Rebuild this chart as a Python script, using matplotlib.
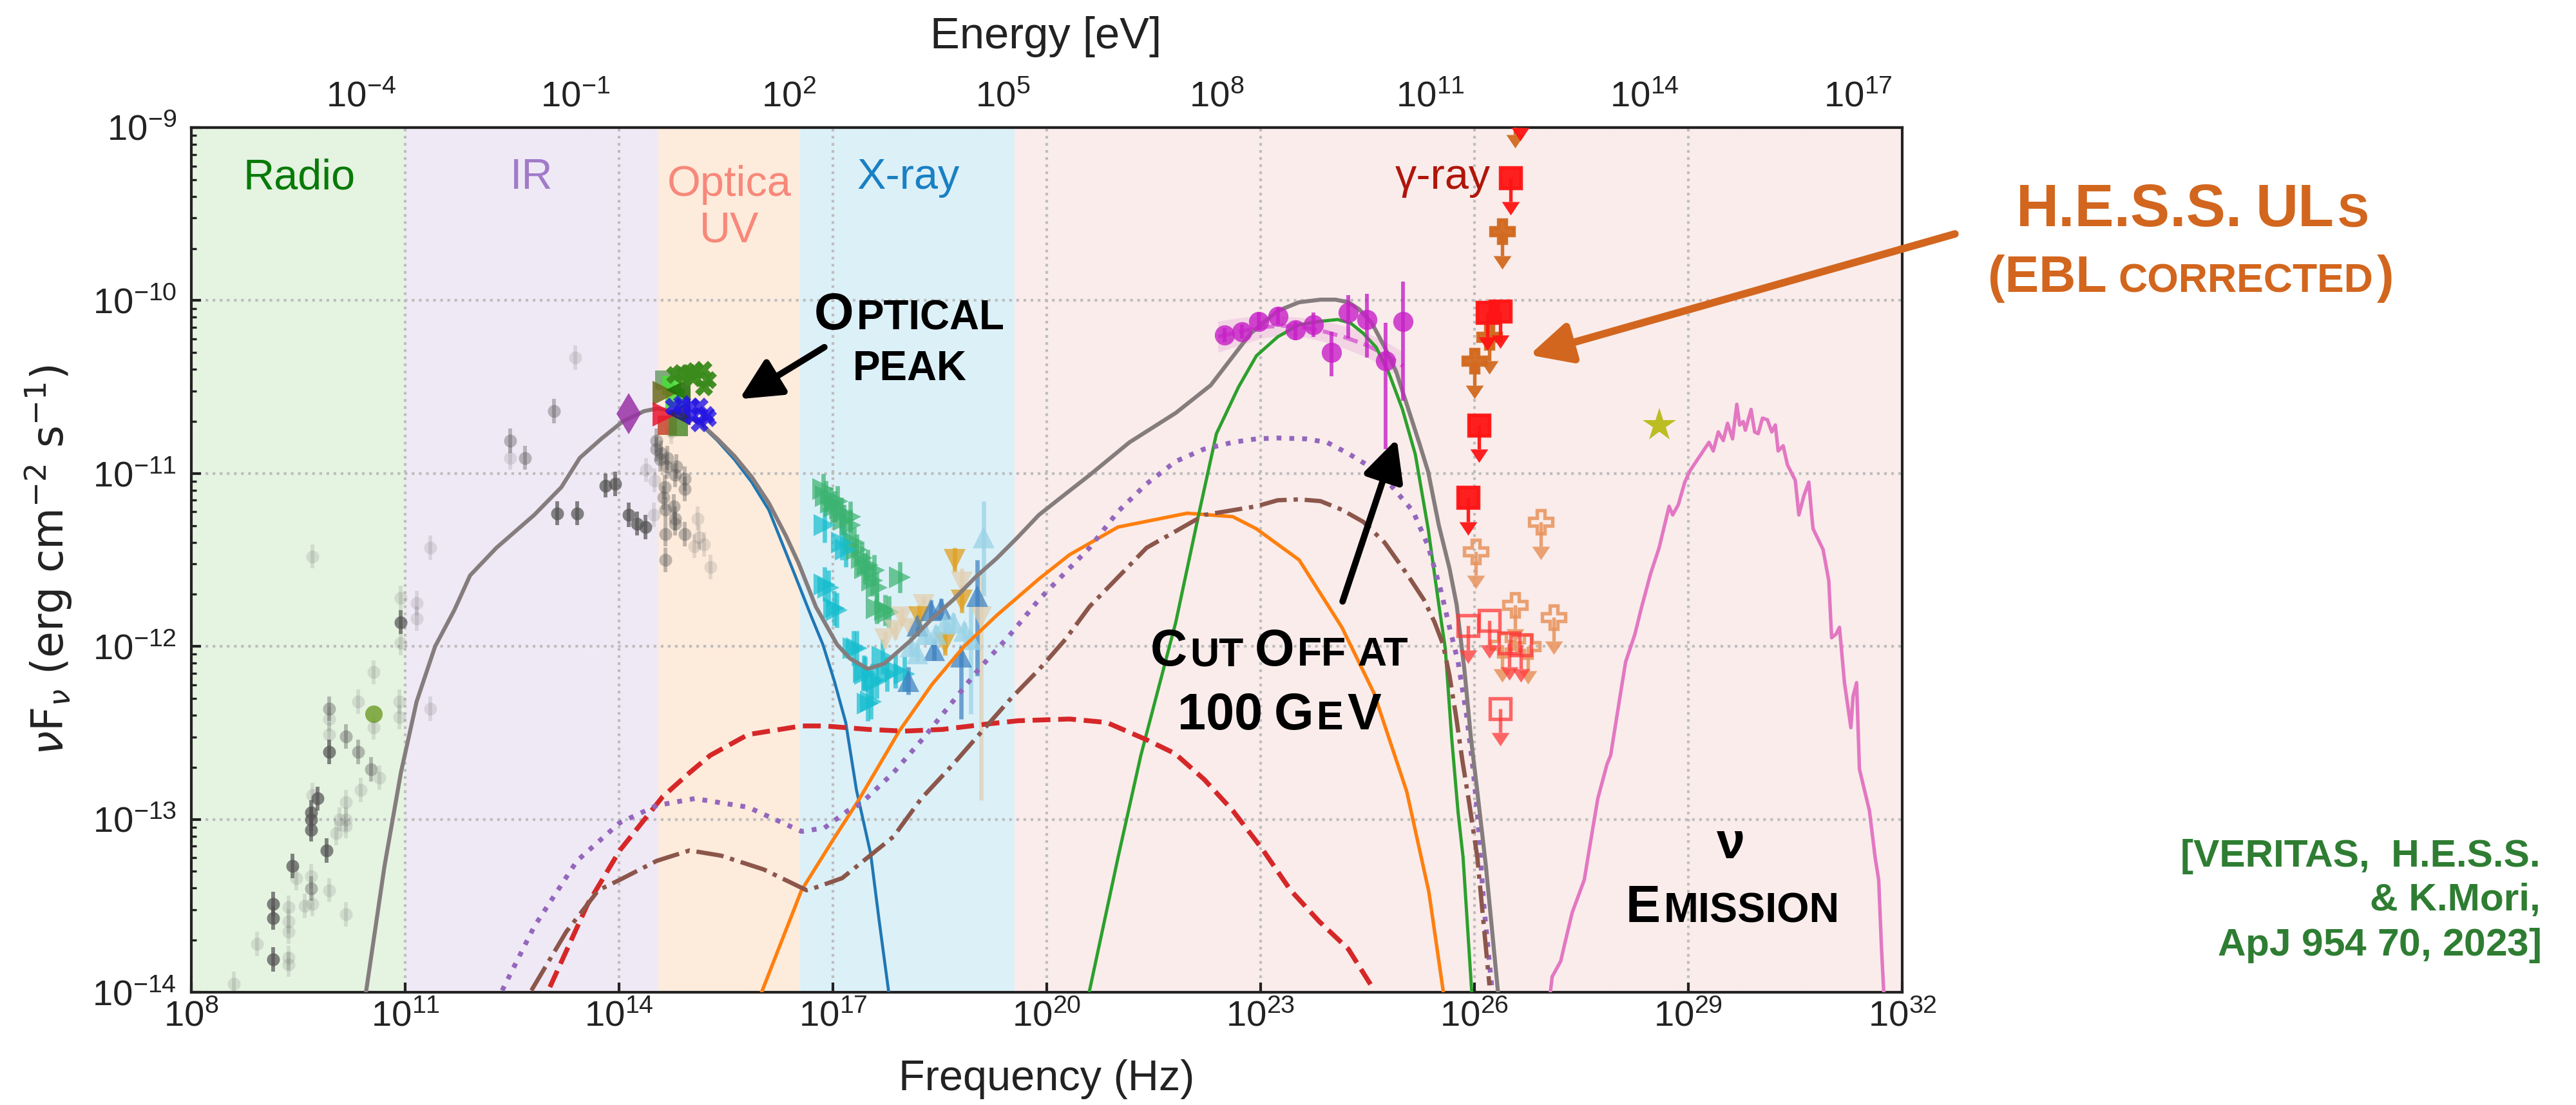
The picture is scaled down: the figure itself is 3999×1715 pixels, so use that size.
import numpy as np
import matplotlib
matplotlib.use("Agg")
import matplotlib.pyplot as plt
from matplotlib.path import Path
from matplotlib.ticker import FixedLocator, NullLocator

plt.rcParams["font.family"] = ["Liberation Sans", "DejaVu Sans"]
plt.rcParams["mathtext.fontset"] = "custom"
plt.rcParams["mathtext.rm"] = "Liberation Sans"
plt.rcParams["mathtext.it"] = "Liberation Sans:italic"
plt.rcParams["mathtext.bf"] = "Liberation Sans:bold"
plt.rcParams["axes.axisbelow"] = True

H_EV = 4.135667e-15  # Planck constant [eV s]

# everything below is log10(nu / Hz) and log10(nuFnu / erg cm^-2 s^-1)

# ---- spectral bands
BAND_EDGES = [8.0, 11.0, 14.55, 16.54, 19.55, 32.0]
BAND_NAMES = ["Radio", "IR", "Optica\nUV", "X-ray", "γ-ray"]
BAND_LABEL_NU = [9.51, 12.77, 15.55, 18.06, 25.56]
BAND_LABEL_F = [-9.354, -9.354, -9.66, -9.354, -9.354]   # baseline of the last line

# ---- model components
TOTAL_NU = [10.45, 10.71, 10.94, 11.16, 11.42, 11.69, 11.91, 12.28, 12.81, 13.19, 13.45,
            13.75, 14.05, 14.35, 14.53, 14.71, 14.96, 15.14, 15.38, 15.62, 15.86, 16.10,
            16.34, 16.52, 16.76, 17.06, 17.24, 17.49, 17.72, 18.08, 18.39, 18.69, 19.00,
            19.30, 19.59, 19.89, 20.32, 20.60, 21.16, 21.81, 22.30, 22.86, 23.24, 23.54,
            23.84, 24.05, 24.23, 24.38, 24.56, 24.74, 24.90, 25.05, 25.23, 25.35, 25.50,
            25.65, 25.75, 25.86, 25.95, 26.04, 26.16, 26.33]
TOTAL_F = [-14.00, -13.27, -12.73, -12.32, -12.00, -11.79, -11.59, -11.43, -11.24, -11.08,
           -10.91, -10.80, -10.70, -10.64, -10.625, -10.635, -10.67, -10.71, -10.80, -10.90,
           -11.02, -11.17, -11.36, -11.52, -11.77, -11.99, -12.07, -12.13, -12.10, -11.97,
           -11.84, -11.73, -11.60, -11.49, -11.37, -11.24, -11.10, -11.01, -10.82, -10.65,
           -10.49, -10.19, -10.06, -10.01, -9.995, -9.995, -10.01, -10.05, -10.13, -10.27,
           -10.41, -10.60, -10.83, -10.99, -11.30, -11.55, -11.76, -12.14, -12.53, -12.84,
           -13.27, -14.00]

SYNC_NU = [10.45, 10.71, 10.94, 11.16, 11.42, 11.69, 11.91, 12.28, 12.81, 13.19, 13.45,
           13.75, 14.05, 14.35, 14.53, 14.71, 14.96, 15.14, 15.38, 15.62, 15.86, 16.10,
           16.46, 16.70, 16.86, 17.02, 17.18, 17.33, 17.53, 17.65, 17.78]
SYNC_F = [-14.00, -13.27, -12.73, -12.32, -12.00, -11.79, -11.59, -11.43, -11.24, -11.08,
          -10.91, -10.80, -10.70, -10.64, -10.625, -10.635, -10.67, -10.715, -10.81, -10.92,
          -11.05, -11.21, -11.58, -11.83, -11.99, -12.20, -12.44, -12.83, -13.20, -13.59,
          -13.99]

IC_NU = [16.00, 16.56, 17.00, 17.36, 17.93, 18.39, 18.84, 19.30, 19.89, 20.32, 21.00,
         21.97, 22.61, 22.94, 23.54, 24.14, 24.59, 25.05, 25.36, 25.56]
IC_F = [-14.00, -13.41, -13.12, -12.89, -12.49, -12.22, -12.00, -11.82, -11.61, -11.47,
        -11.31, -11.23, -11.25, -11.32, -11.50, -11.89, -12.27, -12.84, -13.42, -13.99]

PION_NU = [20.60, 21.00, 21.32, 21.81, 22.13, 22.38, 22.69, 22.94, 23.24, 23.54, 23.84,
           24.08, 24.26, 24.44, 24.62, 24.80, 24.99, 25.17, 25.35, 25.50, 25.59, 25.68,
           25.77, 25.84, 25.96]
PION_F = [-13.99, -13.22, -12.63, -11.86, -11.24, -10.77, -10.50, -10.32, -10.21, -10.14,
          -10.12, -10.11, -10.13, -10.19, -10.27, -10.42, -10.63, -10.89, -11.32, -11.76,
          -12.01, -12.53, -12.96, -13.22, -13.99]

RED_NU = [13.03, 13.56, 14.01, 14.61, 14.99, 15.28, 15.81, 16.56, 16.88, 17.49, 18.00,
          18.54, 19.14, 19.60, 20.32, 20.84, 21.40, 21.80, 22.21, 22.61, 23.02, 23.42,
          23.82, 24.23, 24.55]
RED_F = [-13.97, -13.49, -13.18, -12.87, -12.73, -12.63, -12.51, -12.46, -12.46, -12.48,
         -12.49, -12.48, -12.45, -12.43, -12.42, -12.44, -12.54, -12.62, -12.77, -12.95,
         -13.17, -13.41, -13.59, -13.75, -13.96]

PURPLE_NU = [12.36, 12.81, 13.41, 14.01, 14.53, 15.06, 15.81, 16.56, 16.88, 17.21, 17.39,
             17.85, 18.27, 18.66, 19.05, 19.47, 19.89, 20.29, 20.60, 21.00, 21.40, 21.81,
             22.20, 22.61, 22.94, 23.24, 23.63, 23.93, 24.23, 24.53, 24.83, 25.14, 25.35,
             25.53, 25.65, 25.77, 25.89, 25.98, 26.04, 26.13, 26.24]
PURPLE_F = [-13.99, -13.62, -13.24, -13.02, -12.92, -12.88, -12.93, -13.07, -13.05, -12.95,
            -12.91, -12.73, -12.53, -12.33, -12.13, -11.94, -11.73, -11.56, -11.43, -11.22,
            -11.06, -10.93, -10.86, -10.82, -10.80, -10.795, -10.80, -10.82, -10.885, -10.96,
            -11.07, -11.22, -11.42, -11.68, -11.89, -12.09, -12.40, -12.71, -12.96, -13.49,
            -13.96]

BROWN_NU = [12.77, 13.26, 13.71, 14.01, 14.53, 14.99, 15.43, 16.03, 16.63, 16.72, 17.13,
            17.85, 18.24, 18.69, 19.05, 19.50, 19.90, 20.26, 20.60, 21.40, 22.21, 22.94,
            23.24, 23.54, 23.84, 24.14, 24.44, 24.74, 25.05, 25.29, 25.44, 25.56, 25.65,
            25.74, 25.83, 25.92, 26.04, 26.21]
BROWN_F = [-13.99, -13.65, -13.41, -13.35, -13.24, -13.18, -13.21, -13.29, -13.41, -13.40,
           -13.34, -13.10, -12.88, -12.68, -12.51, -12.30, -12.13, -11.96, -11.77, -11.43,
           -11.24, -11.19, -11.155, -11.15, -11.16, -11.21, -11.28, -11.40, -11.58, -11.73,
           -11.86, -11.99, -12.17, -12.40, -12.66, -12.89, -13.22, -13.96]

NEUTRINO_NU = [27.05, 27.09, 27.21, 27.26, 27.37, 27.54, 27.62, 27.73, 27.86, 27.91, 28.03,
               28.12, 28.25, 28.34, 28.47, 28.59, 28.73, 28.78, 28.86, 28.95, 29.03, 29.16,
               29.29, 29.35, 29.42, 29.49, 29.55, 29.62, 29.68, 29.72, 29.77, 29.80, 29.88,
               29.93, 29.98, 30.04, 30.11, 30.17, 30.22, 30.26, 30.33, 30.39, 30.50, 30.55,
               30.62, 30.69, 30.73, 30.75, 30.89, 30.97, 31.01, 31.07, 31.12, 31.19, 31.28,
               31.31, 31.36, 31.40, 31.54, 31.62, 31.67, 31.71, 31.75]
NEUTRINO_F = [-14.05, -13.91, -13.82, -13.73, -13.54, -13.35, -13.15, -12.88, -12.68, -12.63,
              -12.32, -12.09, -11.93, -11.78, -11.58, -11.43, -11.19, -11.24, -11.18, -11.05,
              -10.98, -10.90, -10.82, -10.87, -10.76, -10.81, -10.71, -10.80, -10.60, -10.72,
              -10.70, -10.75, -10.63, -10.76, -10.77, -10.68, -10.69, -10.76, -10.72, -10.87,
              -10.84, -10.95, -11.04, -11.24, -11.13, -11.05, -11.24, -11.32, -11.44, -11.62,
              -11.95, -11.93, -11.89, -12.21, -12.47, -12.29, -12.21, -12.71, -12.95, -13.22,
              -13.35, -13.75, -14.07]

# ---- archival radio / IR / optical fluxes (three visibility groups)
ARCH_STRONG_NU = [9.15, 9.15, 9.15, 9.42, 9.68, 9.68, 9.68, 9.77, 9.90, 9.93, 10.94, 13.13,
                  13.41, 13.81, 13.95, 14.14, 14.25, 14.37]
ARCH_STRONG_F = [-13.49, -13.57, -13.81, -13.27, -12.96, -13.00, -13.06, -12.88, -13.18,
                 -12.61, -11.86, -11.23, -11.23, -11.07, -11.06, -11.24, -11.29, -11.31]
ARCH_MED_NU = [12.47, 12.68, 13.09, 14.52, 14.52, 14.59, 14.68, 14.58, 14.67, 14.80, 14.79,
               14.92, 14.92, 14.64, 14.62, 14.65, 14.77, 14.79, 14.79, 14.65, 14.92, 14.65,
               10.34, 10.52, 10.17, 9.93, 9.68]
ARCH_MED_F = [-10.81, -10.91, -10.64, -10.86, -10.81, -10.88, -10.91, -10.92, -10.96, -10.96,
              -11.01, -11.03, -11.09, -11.08, -11.14, -11.21, -11.19, -11.26, -11.29, -11.35,
              -11.35, -11.50, -12.61, -12.71, -12.52, -12.36, -13.40]
ARCH_FAINT_NU = [8.60, 8.92, 9.36, 9.36, 9.36, 9.36, 9.36, 9.47, 9.59, 9.68, 9.70, 9.70, 9.70,
                 9.93, 9.93, 9.93, 10.03, 10.08, 10.17, 10.17, 10.17, 10.17, 10.34, 10.38,
                 10.56, 10.56, 10.64, 10.92, 10.92, 10.94, 10.94, 11.16, 11.16, 11.35, 11.35,
                 12.47, 13.39, 14.49, 14.50, 14.73, 15.06, 15.10, 15.12, 15.19, 15.28, 14.38]
ARCH_FAINT_F = [-13.95, -13.72, -13.51, -13.59, -13.65, -13.80, -13.84, -13.34, -13.50,
                -13.33, -12.86, -13.49, -11.48, -12.42, -12.51, -13.41, -13.08, -13.00,
                -12.90, -13.00, -13.04, -13.55, -12.32, -12.83, -12.15, -12.47, -12.76,
                -12.32, -12.41, -11.72, -11.98, -11.75, -11.84, -12.36, -11.43, -10.91,
                -10.33, -11.24, -11.04, -10.76, -11.42, -11.26, -11.37, -11.41, -11.54, -10.98]
ARCH_ERR = 0.07
RADIO_NU, RADIO_F = [10.56], [-12.39]

# ---- optical / UV photometry
OPT_GREEN_NU = [14.79, 14.88, 14.98, 15.07, 15.18, 15.25, 15.19, 15.04]
OPT_GREEN_F = [-10.43, -10.42, -10.42, -10.41, -10.40, -10.46, -10.50, -10.45]
OPT_BLUE_NU = [14.77, 14.89, 15.01, 15.13, 15.22, 15.25, 15.13, 15.04]
OPT_BLUE_F = [-10.615, -10.60, -10.615, -10.615, -10.66, -10.68, -10.71, -10.67]
OPT_ONE_NU = [14.64, 14.68, 14.83, 14.79, 14.74, 14.64, 14.83, 14.64, 14.83, 14.14]
OPT_ONE_F = [-10.46, -10.72, -10.727, -10.565, -10.491, -10.534, -10.516, -10.658, -10.652,
             -10.656]
OPT_ONE_MARKER = ["s", "s", "s", "s", "s", ">", "<", ">", "<", "d"]
OPT_ONE_COLOR = ["#6c9c6c", "#c4452a", "#4f8c30", "#46e034", "#46e034", "#6d6b1e",
                 "#1d6a04", "#ea1530", "#1c1a72", "#9a32a6"]

# ---- X-ray spectra
XG_NU = [16.86, 16.90, 16.97, 17.03, 17.06, 17.12, 17.15, 17.24, 17.24, 17.30, 17.33, 17.41,
         17.45, 17.49, 17.55, 17.58, 17.61, 17.61, 17.73, 17.79, 17.94]
XG_F = [-11.09, -11.13, -11.17, -11.19, -11.16, -11.23, -11.27, -11.25, -11.30, -11.40,
        -11.44, -11.49, -11.55, -11.53, -11.62, -11.56, -11.66, -11.78, -11.79, -11.80, -11.60]
XC_NU = [16.88, 16.88, 16.94, 17.02, 17.05, 17.13, 17.18, 17.29, 17.33, 17.43, 17.45, 17.49,
         17.53, 17.55, 17.61, 17.70, 17.76, 17.88, 18.00]
XC_F = [-11.30, -11.64, -11.66, -11.78, -11.79, -11.40, -11.44, -12.01, -12.01, -12.15,
        -12.16, -12.33, -12.32, -12.20, -12.20, -12.06, -12.16, -12.14, -12.16]
XO_NU = [18.71, 18.81, 18.21, 18.57]
XO_F = [-11.50, -11.735, -11.83, -11.98]
XW_NU = [18.81, 18.27, 17.97, 17.88, 17.73, 19.08, 18.09]
XW_F = [-11.63, -11.76, -11.83, -11.91, -11.96, -11.83, -11.90]
XW_LO = [0.06, 0.05, 0.05, 0.05, 0.05, 1.06, 0.05]
XW_HI = [0.08, 0.05, 0.05, 0.05, 0.05, 0.25, 0.05]
XB_NU = [18.37, 18.52, 18.18, 19.02, 18.80, 18.06, 18.42]
XB_F = [-11.79, -11.785, -11.88, -11.71, -12.06, -12.20, -12.02]
XB_LO = [0.06, 0.06, 0.06, 0.46, 0.36, 0.08, 0.06]
XB_HI = [0.06, 0.06, 0.06, 0.21, 0.06, 0.08, 0.06]
XL_NU = [19.11, 18.30, 18.45, 18.57, 18.69, 18.84, 18.09, 18.18, 18.93]
XL_F = [-11.37, -11.93, -11.93, -11.87, -11.86, -11.91, -12.00, -12.04, -11.96]
XL_LO = [0.34, 0.05, 0.05, 0.05, 0.05, 0.05, 0.05, 0.05, 0.43]
XL_HI = [0.21, 0.05, 0.05, 0.05, 0.05, 0.05, 0.05, 0.05, 0.20]

# ---- Fermi-LAT
FERMI_NU = [22.49, 22.74, 22.97, 23.24, 23.49, 23.74, 23.99, 24.23, 24.49, 24.75, 25.00]
FERMI_F = [-10.20, -10.18, -10.12, -10.09, -10.17, -10.14, -10.30, -10.07, -10.11, -10.35,
           -10.12]
FERMI_LO = [0.04, 0.04, 0.05, 0.05, 0.06, 0.07, 0.14, 0.15, 0.22, 0.51, 0.46]
FERMI_HI = [0.04, 0.04, 0.05, 0.05, 0.05, 0.07, 0.12, 0.10, 0.15, 0.22, 0.23]
BOWTIE_NU = [22.40, 22.70, 23.00, 23.30, 23.60, 23.90, 24.20, 24.50, 24.80, 25.00]
BOWTIE_LO = [-10.30, -10.26, -10.22, -10.20, -10.21, -10.24, -10.28, -10.33, -10.40, -10.46]
BOWTIE_HI = [-10.12, -10.10, -10.09, -10.09, -10.10, -10.12, -10.15, -10.19, -10.25, -10.30]
BOWTIE_FIT = [-10.21, -10.18, -10.155, -10.145, -10.155, -10.18, -10.215, -10.26, -10.325,
              -10.38]

# ---- H.E.S.S. upper limits
HESS_RED_NU = [25.91, 26.06, 26.18, 26.36, 26.51, 26.64]
HESS_RED_F = [-11.14, -10.72, -10.07, -10.06, -9.29, -8.86]
HESS_ORANGE_NU = [26.00, 26.21, 26.39, 26.57]
HESS_ORANGE_F = [-10.35, -10.21, -9.60, -8.90]
HESS_PALE_NU = [26.02, 26.39, 26.57, 26.75, 26.93, 27.11]
HESS_PALE_F = [-11.45, -11.99, -11.76, -12.00, -11.28, -11.83]
HESS_OPEN_NU = [25.91, 26.21, 26.36, 26.49, 26.65]
HESS_OPEN_F = [-11.88, -11.85, -12.36, -11.98, -11.99]
UL_SHAFT = 0.14

STAR_NU, STAR_F = [28.59], [-10.72]

HESS_COLOR = "#d2661e"

W, H, DPI = 3999, 1715, 300
fig = plt.figure(figsize=(W / DPI, H / DPI), dpi=DPI)
ax = fig.add_axes([297 / W, 1 - 1540 / H, 2656 / W, 1342 / H])
ax.set_xscale("log")
ax.set_yscale("log")
ax.set_xlim(1e8, 1e32)
ax.set_ylim(1e-14, 1e-9)


def p10(a):
    return 10.0 ** np.asarray(a, dtype=float)


def points(nu, f, lo, hi, **kw):
    y = p10(f)
    yerr = [y - y * 10.0 ** -np.asarray(lo), y * 10.0 ** np.asarray(hi) - y]
    ax.errorbar(p10(nu), y, yerr=yerr, ls="none", capsize=0, mew=0, **kw)


# arrow head for upper limits: base on the shaft, tip pointing down
ARROW = Path([(-1.0, 0.0), (1.0, 0.0), (0.0, -1.5), (-1.0, 0.0)],
             [Path.MOVETO, Path.LINETO, Path.LINETO, Path.CLOSEPOLY])


def upper_limits(nu, f, marker, color, filled=True, ms=8, alpha=1.0):
    x, y = p10(nu), p10(f)
    base = y * 10.0 ** -UL_SHAFT
    ax.vlines(x, base, y, color=color, lw=1.3, alpha=alpha, zorder=4)
    ax.plot(x, base, ls="none", marker=ARROW, ms=10, color=color, mew=0, alpha=alpha,
            zorder=4)
    ax.plot(x, y, ls="none", marker=marker, ms=ms, color=color,
            mfc=color if filled else "none", mec=color, mew=1.3, alpha=alpha, zorder=4)


# background bands
band_colors = ["#e5f3e1", "#efe9f5", "#fdebdc", "#dcf0f8", "#f9eceb"]
band_text = ["#087a08", "#a17bc9", "#f7887a", "#1a80c3", "#b0150a"]
for i, name in enumerate(BAND_NAMES):
    ax.axvspan(10 ** BAND_EDGES[i], 10 ** BAND_EDGES[i + 1], color=band_colors[i], lw=0,
               zorder=0.2)
    ax.text(10 ** BAND_LABEL_NU[i], 10 ** BAND_LABEL_F[i], name, color=band_text[i],
            fontsize=16, ha="center", va="baseline", zorder=5)

ax.grid(True, which="major", ls=":", lw=1.0, color="#bdbdbd")

# archival data
for nu, f, a in [(ARCH_FAINT_NU, ARCH_FAINT_F, 0.15), (ARCH_MED_NU, ARCH_MED_F, 0.38),
                 (ARCH_STRONG_NU, ARCH_STRONG_F, 0.72)]:
    points(nu, f, ARCH_ERR, ARCH_ERR, fmt="o", ms=4.8, color="#555555", alpha=a,
           elinewidth=1.4, zorder=2)
ax.plot(p10(RADIO_NU), p10(RADIO_F), "o", ms=6.5, color="#74a030", alpha=0.85, mew=0,
        zorder=2)

# X-ray spectra
points(XG_NU, XG_F, 0.09, 0.09, fmt=">", ms=8, color="#3cb371", alpha=0.72,
       elinewidth=1.6, zorder=2)
points(XC_NU, XC_F, 0.10, 0.10, fmt=">", ms=8, color="#17becf", alpha=0.72,
       elinewidth=1.6, zorder=2)
points(XW_NU, XW_F, XW_LO, XW_HI, fmt="v", ms=8, color="#e2cfae", alpha=0.7,
       elinewidth=1.6, zorder=2)
points(XO_NU, XO_F, 0.07, 0.07, fmt="v", ms=8, color="#e0a020", alpha=0.75,
       elinewidth=1.6, zorder=2)
points(XB_NU, XB_F, XB_LO, XB_HI, fmt="^", ms=8, color="#3a7fc0", alpha=0.7,
       elinewidth=1.6, zorder=2)
points(XL_NU, XL_F, XL_LO, XL_HI, fmt="^", ms=8, color="#9ad3e6", alpha=0.75,
       elinewidth=1.6, zorder=2)

# model curves
ax.plot(p10(SYNC_NU), p10(SYNC_F), color="#1f77b4", lw=1.1, zorder=3)
ax.plot(p10(IC_NU), p10(IC_F), color="#ff7f0e", lw=1.3, zorder=3)
ax.plot(p10(PION_NU), p10(PION_F), color="#2ca02c", lw=1.2, zorder=3)
ax.plot(p10(RED_NU), p10(RED_F), color="#d62728", lw=1.8, ls="--", zorder=3)
ax.plot(p10(PURPLE_NU), p10(PURPLE_F), color="#9467bd", lw=1.8, ls=":", zorder=3)
ax.plot(p10(BROWN_NU), p10(BROWN_F), color="#8c564b", lw=1.6, ls="-.", zorder=3)
ax.plot(p10(TOTAL_NU), p10(TOTAL_F), color="#857d7d", lw=1.5, zorder=3.1)
ax.plot(p10(NEUTRINO_NU), p10(NEUTRINO_F), color="#e377c2", lw=1.3, zorder=3)

# optical / UV photometry
for i in range(len(OPT_ONE_NU)):
    ms = 11 if OPT_ONE_MARKER[i] == "d" else (9 if OPT_ONE_MARKER[i] in "<>" else 7)
    ax.plot(10 ** OPT_ONE_NU[i], 10 ** OPT_ONE_F[i], OPT_ONE_MARKER[i], ms=ms,
            color=OPT_ONE_COLOR[i], alpha=0.85, mew=0, zorder=4)
ax.plot(p10(OPT_GREEN_NU), p10(OPT_GREEN_F), "X", ms=6.5, color="#3a8a1c", alpha=0.95,
        mew=0, zorder=4)
ax.plot(p10(OPT_BLUE_NU), p10(OPT_BLUE_F), "X", ms=6.5, color="#2314e4", alpha=0.8,
        mew=0, zorder=4)

# Fermi-LAT bow tie and points
ax.fill_between(p10(BOWTIE_NU), p10(BOWTIE_LO), p10(BOWTIE_HI), color="#e6a8d8",
                alpha=0.35, lw=0, zorder=2.5)
ax.plot(p10(BOWTIE_NU), p10(BOWTIE_FIT), color="#c71fc7", lw=1.5, ls="--", alpha=0.55,
        zorder=2.6)
points(FERMI_NU, FERMI_F, FERMI_LO, FERMI_HI, fmt="o", ms=7.5, color="#c71fc7",
       alpha=0.8, elinewidth=1.4, zorder=4)

# H.E.S.S. upper limits
upper_limits(HESS_PALE_NU, HESS_PALE_F, "P", "#e8935c", filled=False, ms=8.5, alpha=0.85)
upper_limits(HESS_OPEN_NU, HESS_OPEN_F, "s", "#ff3838", filled=False, ms=7.5, alpha=0.75)
upper_limits(HESS_ORANGE_NU, HESS_ORANGE_F, "P", "#d2691e", ms=8.5, alpha=0.95)
upper_limits(HESS_RED_NU, HESS_RED_F, "s", "#ff1414", ms=7.5, alpha=0.95)

ax.plot(p10(STAR_NU), p10(STAR_F), "*", ms=13, color="#bcbd22", mew=0, zorder=4)

# axes styling
ax.xaxis.set_major_locator(FixedLocator(10.0 ** np.arange(8, 33, 3)))
ax.xaxis.set_minor_locator(NullLocator())
ax.tick_params(which="both", direction="in", top=False, right=False, colors="#222222",
               labelsize=13.5)
ax.tick_params(which="major", length=3.6, width=1.0)
ax.tick_params(which="minor", length=2.0, width=0.8)
ax.tick_params(axis="x", pad=3)
ax.tick_params(axis="y", pad=5.5)
for s in ax.spines.values():
    s.set_linewidth(1.0)
    s.set_color("#222222")

sec = ax.secondary_xaxis("top", functions=(lambda n: n * H_EV, lambda e: e / H_EV))
sec.xaxis.set_major_locator(FixedLocator(10.0 ** np.arange(-4, 18, 3)))
sec.xaxis.set_minor_locator(NullLocator())
sec.tick_params(direction="in", length=3.6, width=1.0, pad=5, labelsize=13.5,
                colors="#222222")
sec.spines["top"].set_linewidth(1.0)
fig.text(1624 / W, 1 - 75 / H, "Energy [eV]", ha="center", va="baseline", fontsize=16.5,
         color="#222222")

ax.set_xlabel("Frequency (Hz)", fontsize=16, color="#222222", va="baseline")
ax.xaxis.set_label_coords(0.5, (1540 - 1692) / 1342)
ax.set_ylabel(r"$\nu$F$_{\nu}$ (erg cm$^{-2}$ s$^{-1}$)", fontsize=16,
              family="DejaVu Sans", math_fontfamily="dejavusans", color="#222222",
              va="center")
ax.yaxis.set_label_coords((75 - 297) / 2656, 0.5)

# arrows
head = "-|>,head_length=0.65,head_width=0.32"
ax.annotate("", xy=(10 ** 15.69, 10 ** -10.57), xytext=(10 ** 16.88, 10 ** -10.27),
            arrowprops=dict(arrowstyle=head, color="black", lw=2.4, mutation_scale=20,
                            shrinkA=0, shrinkB=0), zorder=6)
ax.annotate("", xy=(10 ** 24.91, 10 ** -10.80), xytext=(10 ** 24.15, 10 ** -11.74),
            arrowprops=dict(arrowstyle=head, color="black", lw=2.4, mutation_scale=20,
                            shrinkA=0, shrinkB=0), zorder=6)
ax.annotate("", xy=(10 ** 26.77, 10 ** -10.315), xytext=(10 ** 32.74, 10 ** -9.615),
            arrowprops=dict(arrowstyle=head, color=HESS_COLOR, lw=2.8, mutation_scale=20,
                            shrinkA=0, shrinkB=0), annotation_clip=False, zorder=6)

renderer = fig.canvas.get_renderer()
PX = DPI / 72.0


def caps_line(xc, yb, text, big, small, color):
    """Draw one line in small capitals centred on pixel column xc, baseline yb."""
    runs = []
    for ch in text:
        if ch == " ":
            runs.append((None, small))
            continue
        if ch.isascii() and ch.islower():
            ch, size = ch.upper(), small
        else:
            size = big
        if runs and runs[-1][0] is not None and runs[-1][1] == size:
            runs[-1] = (runs[-1][0] + ch, size)
        else:
            runs.append((ch, size))
    x, placed, prev = 0.0, [], False
    for s, size in runs:
        if s is None:
            x += 0.28 * size * PX
            prev = False
            continue
        t = fig.text(0, 0, s, fontsize=size, fontweight="bold", color=color, ha="left",
                     va="baseline")
        if prev:
            x += 0.07 * size * PX
        placed.append((t, x))
        x += t.get_window_extent(renderer).width
        prev = True
    x0 = xc - x / 2
    for t, dx in placed:
        t.set_position(((x0 + dx) / W, 1 - yb / H))


caps_line(1412, 511, "Optical", 19, 15.3, "black")
caps_line(1412, 590, "peak", 19, 15.3, "black")
caps_line(1986, 1033, "Cut Off at", 19, 15, "black")
caps_line(1986, 1132, "100 GeV", 19, 15, "black")
caps_line(2687, 1332, "ν", 19, 15.5, "black")
caps_line(2690, 1431, "Emission", 19.5, 15.5, "black")
caps_line(3404, 351, "H.E.S.S. ULs", 22, 17.5, HESS_COLOR)
caps_line(3401, 453, "(EBL corrected)", 19, 15, HESS_COLOR)

fig.text(3944 / W, 1 - 1483 / H, "[VERITAS,  H.E.S.S.\n& K.Mori,\nApJ $\\mathbf{954}$ 70, 2023]",
         ha="right", va="baseline", multialignment="right", fontsize=14.5, linespacing=1.3,
         fontweight="bold", color="#2e7d32")

fig.savefig("out.png", dpi=DPI)
